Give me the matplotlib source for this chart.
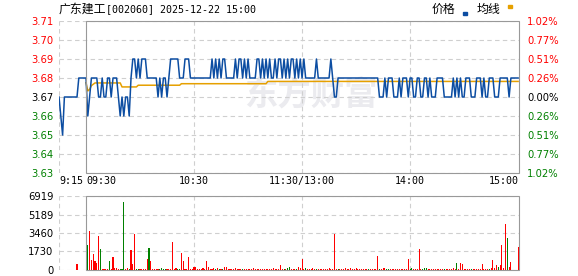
import numpy as np
import matplotlib
matplotlib.use('Agg')
import matplotlib.pyplot as plt
from matplotlib.patches import Rectangle

# minutes counted from 9:15, 11:30 and 13:00 share one slot
price = [
    3.67, 3.66, 3.65, 3.67, 3.67, 3.67, 3.67, 3.67, 3.67, 3.67,
    3.67, 3.68, 3.68, 3.68, 3.68, 3.68, 3.66, 3.67, 3.68, 3.68,
    3.68, 3.68, 3.67, 3.67, 3.68, 3.67, 3.67, 3.68, 3.68, 3.67,
    3.68, 3.68, 3.68, 3.67, 3.66, 3.67, 3.66, 3.67, 3.67, 3.66,
    3.68, 3.69, 3.69, 3.68, 3.69, 3.68, 3.69, 3.69, 3.69, 3.68,
    3.68, 3.68, 3.68, 3.68, 3.68, 3.67, 3.68, 3.67, 3.68, 3.68,
    3.67, 3.68, 3.69, 3.69, 3.69, 3.69, 3.69, 3.68, 3.68, 3.68,
    3.69, 3.69, 3.69, 3.68, 3.68, 3.68, 3.68, 3.68, 3.68, 3.68,
    3.68, 3.68, 3.68, 3.68, 3.68, 3.69, 3.68, 3.69, 3.68, 3.69,
    3.68, 3.69, 3.69, 3.68, 3.68, 3.68, 3.68, 3.68, 3.69, 3.68,
    3.69, 3.69, 3.68, 3.69, 3.68, 3.69, 3.68, 3.68, 3.68, 3.68,
    3.69, 3.69, 3.68, 3.69, 3.68, 3.69, 3.68, 3.69, 3.68, 3.68,
    3.69, 3.68, 3.69, 3.69, 3.68, 3.69, 3.68, 3.69, 3.68, 3.69,
    3.69, 3.68, 3.69, 3.68, 3.69, 3.68, 3.69, 3.68, 3.68, 3.68,
    3.68, 3.68, 3.68, 3.69, 3.68, 3.68, 3.68, 3.68, 3.68, 3.68,
    3.68, 3.69, 3.68, 3.67, 3.67, 3.68, 3.68, 3.68, 3.68, 3.68,
    3.68, 3.68, 3.68, 3.68, 3.68, 3.68, 3.68, 3.68, 3.68, 3.68,
    3.68, 3.68, 3.68, 3.68, 3.68, 3.68, 3.68, 3.68, 3.67, 3.67,
    3.67, 3.68, 3.67, 3.68, 3.68, 3.68, 3.67, 3.67, 3.67, 3.68,
    3.67, 3.68, 3.68, 3.68, 3.67, 3.68, 3.68, 3.67, 3.67, 3.68,
    3.68, 3.67, 3.67, 3.68, 3.68, 3.67, 3.68, 3.67, 3.67, 3.67,
    3.68, 3.68, 3.68, 3.68, 3.67, 3.67, 3.67, 3.67, 3.67, 3.68,
    3.67, 3.68, 3.67, 3.68, 3.67, 3.67, 3.68, 3.68, 3.68, 3.67,
    3.67, 3.67, 3.68, 3.68, 3.68, 3.67, 3.68, 3.67, 3.67, 3.68,
    3.68, 3.68, 3.67, 3.67, 3.67, 3.68, 3.68, 3.68, 3.68, 3.68,
    3.67, 3.68, 3.68, 3.68, 3.68, 3.68,
]

avg_t = [15, 16, 17, 18, 20, 34, 35, 43, 44, 67, 68, 115, 116, 255]
avg_v = [3.6775, 3.6732, 3.674, 3.676, 3.6774, 3.6774, 3.6753, 3.6753,
         3.6762, 3.6762, 3.677, 3.677, 3.6782, 3.6782]

# volume, one bar per minute from 9:30 (minute 15) to 15:00 (minute 255)
vol = [
    0, 2370, 3600, 950, 1520, 860, 660, 3190, 1990, 110,
    130, 100, 100, 850, 140, 1230, 200, 200, 140, 140,
    120, 6380, 140, 170, 120, 1900, 570, 3410, 120, 120,
    120, 120, 120, 120, 1040, 2090, 850, 100, 100, 120,
    130, 110, 150, 100, 120, 140, 110, 130, 2650, 100,
    150, 120, 110, 1610, 850, 130, 100, 1230, 120, 140,
    280, 280, 110, 130, 100, 200, 120, 850, 280, 130,
    110, 200, 120, 200, 100, 130, 110, 280, 280, 120,
    110, 130, 100, 150, 120, 110, 130, 140, 100, 120,
    130, 110, 120, 150, 100, 130, 110, 120, 140, 100,
    120, 130, 110, 100, 150, 120, 130, 110, 470, 120,
    130, 100, 200, 280, 110, 120, 130, 100, 280, 200,
    1000, 120, 150, 110, 130, 100, 170, 120, 110, 130,
    100, 140, 120, 110, 130, 150, 100, 120, 3350, 130,
    110, 120, 100, 130, 150, 110, 120, 200, 100, 130,
    200, 110, 120, 100, 130, 110, 120, 140, 100, 130,
    110, 120, 1270, 130, 100, 150, 170, 110, 120, 130,
    100, 120, 110, 130, 140, 100, 120, 110, 130, 1000,
    140, 150, 120, 110, 100, 1940, 130, 120, 170, 170,
    130, 110, 120, 100, 130, 110, 120, 140, 100, 130,
    110, 120, 100, 130, 150, 110, 700, 120, 700, 600,
    130, 110, 120, 100, 130, 110, 120, 140, 100, 130,
    520, 110, 120, 100, 130, 150, 900, 200, 500, 280,
    500, 2300, 200, 4300, 2970, 260, 770, 0, 0, 0,
    2120,
]
vol_green = [16, 23, 28, 34, 35, 36, 39, 43, 44, 50, 56, 57, 58, 59, 66, 67,
             87, 89, 91, 102, 125, 127, 128, 132, 137, 143, 155, 172, 178,
             182, 183, 195, 196, 202, 203, 204, 214, 221, 229, 239, 244, 249]
auction_t = 10
auction_vol = 570

price_ticks = [3.63, 3.64, 3.65, 3.66, 3.67, 3.68, 3.69, 3.70, 3.71]
pct_labels = ['1.02%', '0.77%', '0.51%', '0.26%', '0.00%',
              '0.26%', '0.51%', '0.77%', '1.02%']
prev_close = 3.67
vol_ticks = [0, 1730, 3460, 5189, 6919]
time_ticks = [0, 15, 75, 135, 195, 255]
time_labels = ['9:15', '09:30', '10:30', '11:30/13:00', '14:00', '15:00']

RED = '#ff0000'
GREEN = '#008000'
BLUE = '#0c4da2'
GOLD = '#e6a000'
GRID = '#cfcfcf'
BOX = '#999999'
DASH = (0, (4, 3))

W, H = 578, 276
fig = plt.figure(figsize=(W / 100, H / 100), dpi=100)


def px_axes(x0, y0, x1, y1):
    return fig.add_axes([x0 / W, 1 - y1 / H, (x1 - x0) / W, (y1 - y0) / H])


XMAX = 255.5
ax = px_axes(59, 21, 519, 173)
axv = px_axes(59, 196, 519, 270)

for a in (ax, axv):
    a.set_xlim(0, XMAX)
    for s in a.spines.values():
        s.set_visible(False)
    a.set_xticks([])
    a.tick_params(axis='y', length=0, pad=4, labelsize=7.2)
    a.vlines([0, 75, 135, 195], 0, 1, transform=a.get_xaxis_transform(),
             colors=GRID, linestyles=DASH, lw=0.8, zorder=1)
    a.add_patch(Rectangle((15, 0), XMAX - 15, 1, transform=a.get_xaxis_transform(),
                          fill=False, edgecolor=BOX, lw=0.8, zorder=4, clip_on=False))

# price panel
ax.set_ylim(price_ticks[0], price_ticks[-1])
ax.hlines(price_ticks, 0, XMAX, colors=GRID, linestyles=DASH, lw=0.8, zorder=1)
ax.text(140, 3.6705, '东方财富', family='Noto Sans CJK SC', fontsize=24,
        fontweight='bold', color='#ebebef', ha='center', va='center', zorder=0)
t = np.arange(len(price))
ax.plot(t, price, color=BLUE, lw=1.1, zorder=3)
ax.plot(avg_t, avg_v, color=GOLD, lw=1.1, zorder=2)


def level_color(v):
    if abs(v - prev_close) < 1e-6:
        return 'black'
    return RED if v > prev_close else GREEN


ax.set_yticks(price_ticks)
ax.set_yticklabels(['%.2f' % v for v in price_ticks])
for lab, v in zip(ax.get_yticklabels(), price_ticks):
    lab.set_color(level_color(v))

axr = ax.twinx()
axr.set_ylim(ax.get_ylim())
for s in axr.spines.values():
    s.set_visible(False)
axr.set_yticks(price_ticks)
axr.set_yticklabels(pct_labels)
axr.tick_params(axis='y', length=0, pad=6, labelsize=7.2)
for lab, v in zip(axr.get_yticklabels(), price_ticks):
    lab.set_color(level_color(v))

has = ['left', 'left', 'center', 'center', 'center', 'right']
for tt, lab, ha in zip(time_ticks, time_labels, has):
    xx = XMAX if ha == 'right' else tt
    ax.text(xx, -0.055, lab, transform=ax.get_xaxis_transform(), ha=ha,
            va='center', family='DejaVu Sans Mono', fontsize=7.2)

# volume panel
axv.set_ylim(0, vol_ticks[-1])
axv.hlines(vol_ticks, 0, XMAX, colors=GRID, linestyles=DASH, lw=0.8, zorder=1)
vt = np.arange(15, 15 + len(vol))
cols = [GREEN if m in vol_green else RED for m in vt]
axv.bar(vt, vol, width=0.6, color=cols, lw=0, antialiased=False, zorder=5)
axv.bar([auction_t], [auction_vol], width=0.6, color=RED, lw=0,
        antialiased=False, zorder=5)
axv.set_yticks(vol_ticks)
axv.set_yticklabels([str(v) for v in vol_ticks])

# title and legend
fig.text(59 / W, 1 - 9 / H, '广东建工', family='Noto Sans CJK SC', fontsize=8.6,
         va='center', ha='left')
fig.text(106 / W, 1 - 9 / H, '[002060] 2025-12-22 15:00', family='DejaVu Sans Mono',
         fontsize=7.2, va='center', ha='left')
fig.text(432 / W, 1 - 9 / H, '价格', family='Noto Sans CJK SC', fontsize=8.6,
         va='center', ha='left')
fig.text(477 / W, 1 - 9 / H, '均线', family='Noto Sans CJK SC', fontsize=8.6,
         va='center', ha='left')
fig.add_artist(Rectangle((463 / W, 1 - 15 / H), 4 / W, 3 / H, color=BLUE,
                         transform=fig.transFigure))
fig.add_artist(Rectangle((508 / W, 1 - 7.5 / H), 4 / W, 2.5 / H, color=GOLD,
                         transform=fig.transFigure))

fig.savefig('out.png', dpi=100)
